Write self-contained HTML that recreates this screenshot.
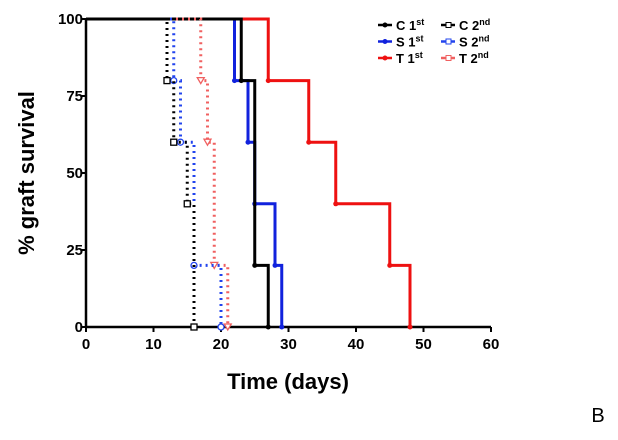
<!DOCTYPE html>
<html><head><meta charset="utf-8"><style>
body{margin:0;background:#fff;width:618px;height:435px;overflow:hidden}
text{font-family:"Liberation Sans",Arial,sans-serif}
</style></head><body>
<svg id="chart" width="618" height="435" xmlns="http://www.w3.org/2000/svg">
<g id="axes"></g>
<g id="series"></g>
<g id="legend"></g>
<text transform="translate(34,173) rotate(-90)" text-anchor="middle" font-size="22" font-weight="bold">% graft survival</text>
<text x="288" y="389" text-anchor="middle" font-size="22" font-weight="bold">Time (days)</text>
<text x="598" y="422" text-anchor="middle" font-size="20">B</text>
</svg>
<script>
const xTicks=[0,10,20,30,40,50,60];
const yTicks=[0,25,50,75,100];
const seriesNames=["C 1st","S 1st","T 1st","C 2nd","S 2nd","T 2nd"];
const c1Times=[23,25,27]; const c1Vals=[80,20,0];
const s1Times=[22,24,25,28,29]; const s1Vals=[80,60,40,20,0];
const t1Times=[27,33,37,45,48]; const t1Vals=[80,60,40,20,0];
const c2Times=[12,13,15,16]; const c2Vals=[80,60,40,0];
const s2Times=[13,14,16,20]; const s2Vals=[80,60,20,0];
const t2Times=[17,18,19,21]; const t2Vals=[80,60,20,0];

const NS="http://www.w3.org/2000/svg";
const X=v=>86+v*(491-86)/60, Y=v=>327-v*(327-19)/100;
function mk(tag,attrs,parent){const e=document.createElementNS(NS,tag);for(const k in attrs)e.setAttribute(k,attrs[k]);parent.appendChild(e);return e;}
const axes=document.getElementById('axes');
let l=mk('line',{x1:X(0),y1:Y(0),x2:X(60),y2:Y(0),stroke:'#000','stroke-width':2.5},axes);


l=mk('line',{x1:X(0),y1:Y(0),x2:X(0),y2:Y(100),stroke:'#000','stroke-width':2.5},axes);


xTicks.forEach(t=>{mk('line',{x1:X(t),y1:Y(0),x2:X(t),y2:Y(0)+5,stroke:'#000','stroke-width':2},axes);
 const tx=mk('text',{x:X(t),y:Y(0)+22,'text-anchor':'middle','font-size':15,'font-weight':'bold'},axes);tx.textContent=t;
 
 });
yTicks.forEach(t=>{mk('line',{x1:X(0)-5,y1:Y(t),x2:X(0),y2:Y(t),stroke:'#000','stroke-width':2},axes);
 const tx=mk('text',{x:X(0)-3,y:Y(t)+5,'text-anchor':'end','font-size':15,'font-weight':'bold'},axes);tx.textContent=t;
 
 });
const ser=document.getElementById('series');
const defs=[
 {t:t1Times,v:t1Vals,c:'#ee1111',d:false,n:'t-1st-line',m:'dot'},
 {t:s1Times,v:s1Vals,c:'#1122dd',d:false,n:'s-1st-line',m:'dot'},
 {t:c1Times,v:c1Vals,c:'#000',d:false,n:'c-1st-line',m:'dot'},
 {t:t2Times,v:t2Vals,c:'#f06060',d:true,n:'t-2nd-line',m:'tri'},
 {t:s2Times,v:s2Vals,c:'#2244ee',d:true,n:'s-2nd-line',m:'circ'},
 {t:c2Times,v:c2Vals,c:'#000',d:true,n:'c-2nd-line',m:'sq'}];
defs.forEach(s=>{let p=`M${X(0)},${Y(100)}`;let prev=100;
 s.t.forEach((t,i)=>{p+=` H${X(t)} V${Y(s.v[i])}`;prev=s.v[i];});
 const path=mk('path',{d:p,fill:'none',stroke:s.c,'stroke-width':s.d?3:3,'stroke-dasharray':s.d?'2 4':'none'},ser);
 
 
 s.t.forEach((t,i)=>{const x=X(t),y=Y(s.v[i]);let m;
  if(s.m==='dot')m=mk('circle',{cx:x,cy:y,r:2.5,fill:s.c},ser);
  else if(s.m==='sq')m=mk('rect',{x:x-3,y:y-3,width:6,height:6,fill:'#fff',stroke:s.c,'stroke-width':1.3},ser);
  else if(s.m==='circ')m=mk('circle',{cx:x,cy:y,r:3,fill:'#fff',stroke:s.c,'stroke-width':1.3},ser);
  else m=mk('path',{d:`M${x-3.5},${y-3} L${x+3.5},${y-3} L${x},${y+3} Z`,fill:'#fff',stroke:s.c,'stroke-width':1.3},ser);
  
  });});
const lg=document.getElementById('legend');
const lcols=['#000','#1122dd','#ee1111','#000','#2244ee','#f06060'];
seriesNames.forEach((n,i)=>{const col=i<3?0:1,row=i%3;const lx=378+col*63,ly=25+row*16.5;
 const g=mk('g',{},lg);
 
 
 mk('line',{x1:lx,y1:ly,x2:lx+14,y2:ly,stroke:lcols[i],'stroke-width':2.5},g);
 if(col===0)mk('circle',{cx:lx+7,cy:ly,r:2.5,fill:lcols[i]},g);
 else mk('rect',{x:lx+5,y:ly-2.5,width:5,height:5,fill:'#fff',stroke:lcols[i]},g);
 const parts=n.split(' ');const tx=mk('text',{x:lx+18,y:ly+5,'font-size':13,'font-weight':'bold'},g);
 tx.textContent=parts[0]+' '+parts[1][0];
 const sup=mk('tspan',{'font-size':9,dy:-5},tx);sup.textContent=parts[1].slice(1);});
</script>
</body></html>
